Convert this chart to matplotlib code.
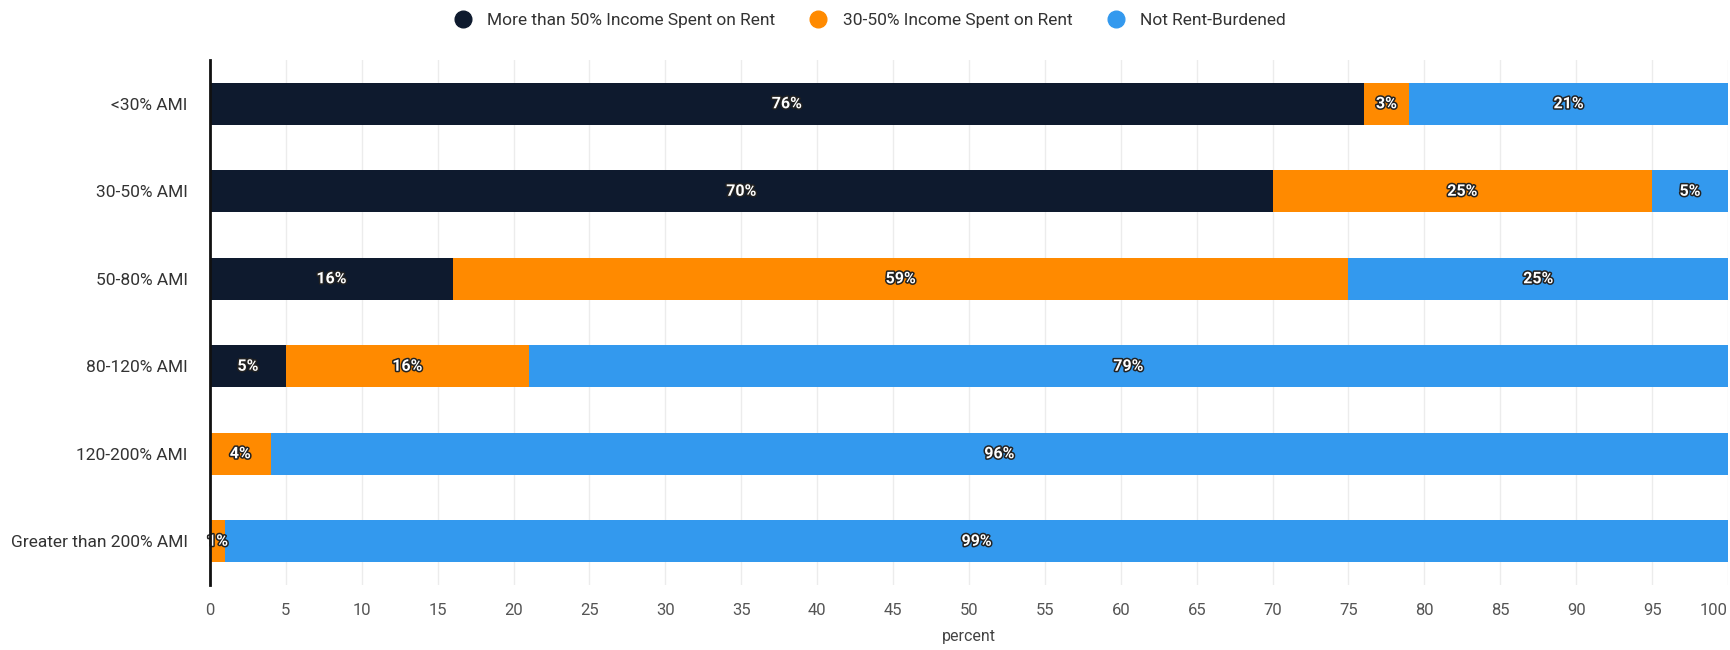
import numpy as np
import matplotlib.pyplot as plt
import matplotlib.patheffects as pe
from matplotlib.lines import Line2D

plt.rcParams['font.family'] = ['Roboto', 'DejaVu Sans']

# rent burden by income band (share of households, %)
groups = ["<30% AMI", "30-50% AMI", "50-80% AMI", "80-120% AMI",
          "120-200% AMI", "Greater than 200% AMI"]
severe = [76, 70, 16, 5, 0, 0]
moderate = [3, 25, 59, 16, 4, 1]
not_burdened = [21, 5, 25, 79, 96, 99]

series = ["More than 50% Income Spent on Rent", "30-50% Income Spent on Rent",
          "Not Rent-Burdened"]
colors = ["#0e1a2e", "#ff8a00", "#3399ee"]

fig = plt.figure(figsize=(17.31, 6.5), dpi=100)
ax = fig.add_axes([210 / 1731, 1 - 585 / 650, 1518 / 1731, 525 / 650])

y = np.arange(len(groups))
left = np.zeros(len(groups))
outline = [pe.Stroke(linewidth=2.2, foreground="#222222"), pe.Normal()]

for vals, col in zip([severe, moderate, not_burdened], colors):
    vals = np.array(vals, dtype=float)
    ax.barh(y, vals, left=left, height=0.48, color=col, zorder=2)
    for yi, l, v in zip(y, left, vals):
        if v > 0:
            ax.text(l + v / 2, yi, f"{v:.0f}%", ha="center", va="center",
                    color="white", fontsize=11.5, fontweight="bold",
                    path_effects=outline, zorder=3)
    left += vals

ax.set_xlim(0, 100)
ax.set_ylim(len(groups) - 0.5, -0.5)
ax.set_yticks(y)
ax.set_yticklabels(groups, fontsize=12.5, color="#333333")
ax.set_xticks(np.arange(0, 101, 5))
ax.tick_params(axis="x", labelsize=12, labelcolor="#555555", length=0, pad=13)
ax.tick_params(axis="y", length=0, pad=16)
ax.get_xticklabels()[-1].set_ha("right")
ax.set_xlabel("percent", fontsize=11.5, color="#444444", labelpad=8)

ax.grid(axis="x", color="#ececec", linewidth=1, zorder=0)
for s in ["top", "right", "bottom"]:
    ax.spines[s].set_visible(False)
ax.spines["left"].set_color("#111111")
ax.spines["left"].set_linewidth(2)
ax.spines["left"].set_zorder(4)

handles = [Line2D([0], [0], marker="o", linestyle="", markersize=12,
                  markerfacecolor=c, markeredgecolor=c) for c in colors]
fig.legend(handles, series, loc="center", bbox_to_anchor=(0.5, 1 - 20 / 650),
           ncol=3, frameon=False, fontsize=12.5, handletextpad=0.4,
           columnspacing=1.5, labelcolor="#333333")

fig.savefig("out.png", dpi=100, facecolor="white")
